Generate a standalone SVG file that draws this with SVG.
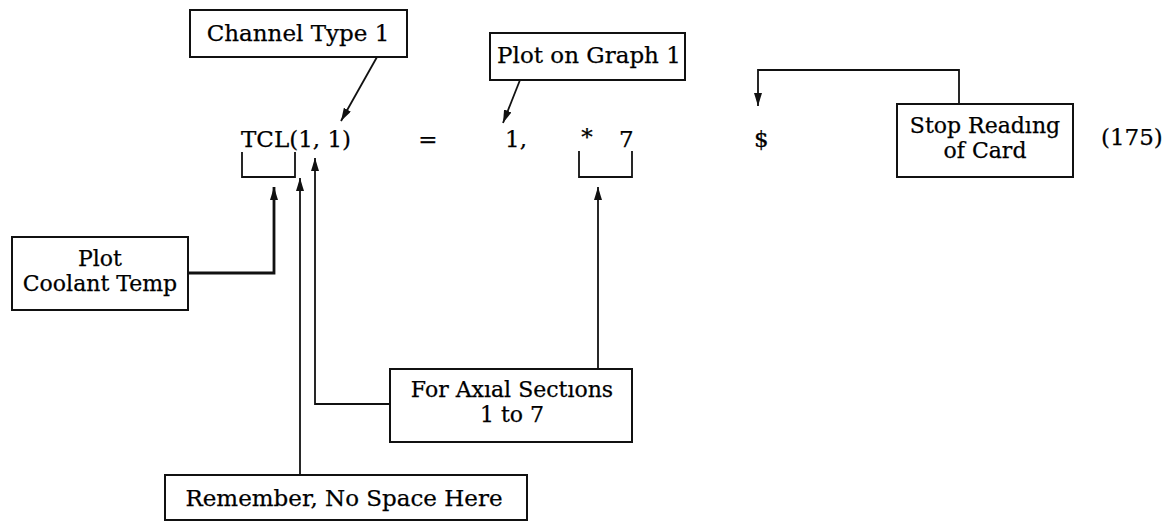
<svg xmlns="http://www.w3.org/2000/svg" width="1169" height="522" viewBox="0 0 1169 522">
<style>
text{font-family:"DejaVu Serif","Liberation Serif",serif;font-size:23px;fill:#000;stroke:#000;stroke-width:0.25}
.c{text-anchor:middle}
.t2{font-size:22px}
.box{fill:#fff;stroke:#111;stroke-width:2}
.ln{fill:none;stroke:#111;stroke-width:1.8}
.hv{stroke-width:2.8}
</style>
<defs>
<marker id="ah" viewBox="0 0 13 8" refX="13" refY="4" markerWidth="13" markerHeight="8" markerUnits="userSpaceOnUse" orient="auto">
<path d="M0,0 L13,4 L0,8 Z" fill="#111"/>
</marker>
</defs>
<rect width="1169" height="522" fill="#fff"/>
<g id="statement">
<text x="241" y="147">TCL(1, 1)</text>
<text x="428" y="147" class="c">=</text>
<text x="505" y="147">1,</text>
<text x="587" y="145" class="c">*</text>
<text x="619" y="147">7</text>
<text x="754" y="147">$</text>
<text x="1101" y="145">(175)</text>
<path class="ln" d="M242,152 V177 H295 V152"/>
<path class="ln" d="M579,151 V177 H632 V151"/>
</g>
<g id="connectors">
<path class="ln" d="M377,57 L341,121" marker-end="url(#ah)"/>
<path class="ln" d="M520,80 L503,123" marker-end="url(#ah)"/>
<path class="ln" d="M959,104 V70 H758 V106" marker-end="url(#ah)"/>
<path class="ln hv" d="M188,273 H274 V187" marker-end="url(#ah)"/>
<path class="ln" d="M300,475 V178" marker-end="url(#ah)"/>
<path class="ln" d="M390,404 H315 V158" marker-end="url(#ah)"/>
<path class="ln" d="M598,369 V187" marker-end="url(#ah)"/>
</g>
<g id="channel-type">
<rect class="box" x="190" y="10" width="217" height="47"/>
<text x="298" y="41" class="c">Channel Type 1</text>
</g>
<g id="plot-graph">
<rect class="box" x="490" y="33" width="195" height="47"/>
<text x="589" y="63" class="c">Plot on Graph 1</text>
</g>
<g id="stop-reading">
<rect class="box" x="897" y="104" width="176" height="73"/>
<text x="985" y="133" class="c t2">Stop Readıng</text>
<text x="985" y="158" class="c t2">of Card</text>
</g>
<g id="plot-coolant">
<rect class="box" x="12" y="237" width="176" height="73"/>
<text x="100" y="266" class="c t2">Plot</text>
<text x="100" y="291" class="c t2">Coolant Temp</text>
</g>
<g id="axial-sections">
<rect class="box" x="390" y="369" width="242" height="73"/>
<text x="512" y="397" class="c t2">For Axıal Sectıons</text>
<text x="512" y="422" class="c t2">1 to 7</text>
</g>
<g id="no-space">
<rect class="box" x="165" y="475" width="362" height="45"/>
<text x="344" y="506" class="c">Remember, No Space Here</text>
</g>
</svg>
